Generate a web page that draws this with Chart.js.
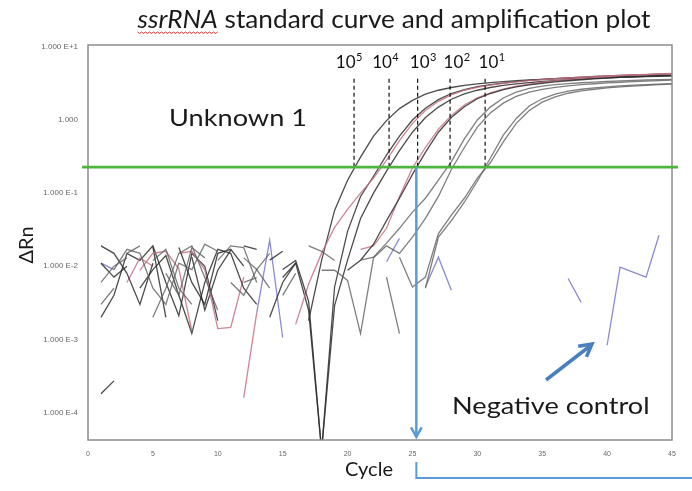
<!DOCTYPE html>
<html>
<head>
<meta charset="utf-8">
<script src="https://cdn.jsdelivr.net/npm/chart.js@4.4.1/dist/chart.umd.min.js"></script>
<style>
  html, body { margin: 0; padding: 0; background: #fff; }
</style>
</head>
<body>
<canvas id="ampChart" width="692" height="491"></canvas>
<script>
// cycle numbers 1..45
const cycles = [1,2,3,4,5,6,7,8,9,10,11,12,13,14,15,16,17,18,19,20,21,22,23,24,25,26,27,28,29,30,31,32,33,34,35,36,37,38,39,40,41,42,43,44,45];

// ΔRn per cycle (null = no value on log scale)
const std5a = [0.0110, 0.0071, 0.0100, null, 0.0182, 0.0020, null, 0.0133, 0.0025, 0.0088, 0.0166, null, null, 0.0121, 0.0160,
  null, 0.0018, 0.0120, 0.058, 0.15, 0.31, 0.60, 0.98, 1.43, 1.85, 2.25, 2.55, 2.78, 2.97, 3.12,
  3.25, 3.35, 3.45, 3.53, 3.60, 3.66, 3.72, 3.78, 3.83, 3.88, 3.92, 3.96, 4.00, 4.03, 4.06];
const std4a = [0.0020, 0.0040, 0.0150, 0.0120, 0.0190, 0.0060, 0.0021, 0.0150, 0.0100, 0.0018, null, 0.0190, 0.0170, null, 0.0070,
  0.0110, 0.0025, 0.00003, 0.0052, 0.030, 0.090, 0.17, 0.33, 0.60, 1.00, 1.45, 1.90, 2.30, 2.60, 2.85,
  3.05, 3.20, 3.35, 3.47, 3.58, 3.68, 3.77, 3.85, 3.93, 4.00, 4.06, 4.12, 4.17, 4.22, 4.26];
const std4b = [null, null, 0.0060, 0.0130, 0.0100, null, 0.0150, 0.0160, 0.0090, 0.0014, 0.00146, 0.0071, null, null, null,
  0.0016, 0.0057, 0.0151, 0.034, 0.060, 0.10, 0.16, 0.28, 0.52, 0.90, 1.35, 1.80, 2.20, 2.55, 2.80,
  3.00, 3.17, 3.32, 3.45, 3.56, 3.66, 3.75, 3.84, 3.92, 4.00, 4.07, 4.13, 4.18, 4.23, 4.28];
const std4c = [0.00018, 0.00027, null, 0.0050, 0.0090, 0.0140, 0.0040, 0.0012, 0.0060, 0.0170, 0.0150, 0.0050, 0.0030, null, 0.0090,
  0.0120, 0.0033, 0.00003, 0.0029, 0.0121, 0.045, 0.10, 0.20, 0.38, 0.68, 1.08, 1.50, 1.92, 2.27, 2.55,
  2.78, 2.97, 3.12, 3.25, 3.36, 3.46, 3.55, 3.63, 3.70, 3.76, 3.82, 3.87, 3.92, 3.96, 4.00];
const unk1a = [null, null, null, 0.0088, 0.0151, 0.0160, 0.0092, 0.0013, null, null, null, 0.00016, 0.0023, null, null,
  null, null, null, null, null, 0.017, 0.019, 0.033, 0.090, 0.22, 0.42, 0.75, 1.15, 1.60, 2.00,
  2.35, 2.65, 2.90, 3.10, 3.28, 3.43, 3.57, 3.70, 3.82, 3.93, 4.03, 4.12, 4.20, 4.27, 4.33];
const unk1b = [0.0190, 0.0150, 0.0080, 0.0030, 0.0110, null, 0.0180, 0.0060, 0.0030, 0.0150, 0.0170, 0.0100, null, 0.0020, 0.0060,
  0.0110, null, null, null, 0.0088, 0.0121, 0.020, 0.042, 0.085, 0.18, 0.36, 0.68, 1.08, 1.52, 1.95,
  2.30, 2.60, 2.83, 3.02, 3.18, 3.32, 3.44, 3.55, 3.65, 3.74, 3.82, 3.89, 3.95, 4.00, 4.05];
const std2a = [null, 0.0090, 0.0170, 0.0150, 0.0050, 0.0030, 0.0110, 0.0090, 0.0200, 0.0160, null, 0.0060, 0.0070, null, null,
  null, 0.0190, 0.0160, 0.0120, null, 0.0121, 0.0133, 0.0207, 0.033, 0.055, 0.085, 0.15, 0.27, 0.55, 1.00,
  1.50, 2.00, 2.40, 2.70, 2.90, 3.05, 3.15, 3.23, 3.30, 3.36, 3.42, 3.47, 3.52, 3.56, 3.60];
const std2b = [0.0030, 0.0050, null, null, 0.0120, 0.0170, 0.0050, 0.0030, null, 0.0120, 0.0190, 0.0180, 0.0060, null, 0.0040,
  0.0080, null, 0.0088, 0.0088, 0.0064, 0.0012, 0.0130, 0.0190, 0.0150, 0.025, 0.045, 0.090, 0.21, 0.42, 0.80,
  1.25, 1.70, 2.10, 2.40, 2.62, 2.80, 2.93, 3.04, 3.13, 3.21, 3.28, 3.34, 3.40, 3.45, 3.50];
const std1a = [0.0060, 0.0100, 0.0130, null, 0.0020, 0.0050, 0.0150, 0.0190, 0.0070, 0.0025, null, 0.0130, 0.0090, 0.0150, null,
  null, null, null, null, null, null, null, 0.0071, 0.0012, null, 0.0050, 0.025, 0.042, 0.075, 0.145,
  0.30, 0.62, 1.05, 1.55, 1.95, 2.25, 2.48, 2.63, 2.75, 2.84, 2.92, 2.99, 3.05, 3.10, 3.15];
const std1b = [null, null, 0.0150, 0.0190, null, 0.0080, 0.0040, 0.0180, 0.0130, null, 0.0060, 0.0040, 0.0090, 0.0050, null,
  null, null, null, null, null, null, null, null, 0.0133, 0.0052, 0.0071, 0.028, 0.050, 0.085, 0.16,
  0.26, 0.50, 0.90, 1.35, 1.75, 2.07, 2.32, 2.50, 2.63, 2.74, 2.83, 2.91, 2.98, 3.04, 3.10];
const negA = [null, null, null, null, null, null, null, null, null, null, null, null, 0.0023, 0.0227, 0.00106,
  null, null, null, null, null, null, null, 0.0115, 0.024, null, null, null, null, null, null,
  null, null, null, null, null, null, 0.0068, 0.0032, null, 0.00083, 0.0097, 0.0083, 0.0071, 0.0265, null];
const negB = [0.0110, 0.0090, null, null, null, null, null, null, null, null, null, null, null, null, null,
  null, null, null, null, null, null, null, null, null, null, 0.0052, 0.0133, 0.0047, null, null,
  null, null, null, null, null, null, null, null, null, null, null, null, null, null, null];

// axis ticks
const yTickValues = [0.0001, 0.001, 0.01, 0.1, 1, 10];
const yTickLabels = ['1.000 E-4', '1.000 E-3', '1.000 E-2', '1.000 E-1', '1.000', '1.000 E+1'];

// annotations
const threshold = 0.227;
const markerTop = 3.65;
const ctCycles = [20.5, 23.2, 25.4, 27.9, 30.6];
const ctLabelCycles = [20.1, 22.9, 25.8, 28.4, 31.1];
const ctExponents = ['5', '4', '3', '2', '1'];
const unknownCt = 25.3;

const black = 'rgba(45,45,45,0.85)';
const grey = 'rgba(95,95,95,0.8)';
const pink = 'rgba(198,112,128,0.85)';
const blue = 'rgba(118,118,205,0.85)';

function series(data, color) {
  return { data: data, borderColor: color, borderWidth: 1.3, pointRadius: 0, tension: 0, fill: false };
}

function line(ctx, x1, y1, x2, y2) {
  ctx.beginPath(); ctx.moveTo(x1, y1); ctx.lineTo(x2, y2); ctx.stroke();
}

function arrowHead(ctx, x, y, angle, size) {
  ctx.beginPath();
  ctx.moveTo(x - size * Math.cos(angle - 0.5), y - size * Math.sin(angle - 0.5));
  ctx.lineTo(x, y);
  ctx.lineTo(x - size * Math.cos(angle + 0.5), y - size * Math.sin(angle + 0.5));
  ctx.stroke();
}

// text stretched sideways a little, like the reference's wide lettering
function wideText(ctx, text, x, y, sx) {
  ctx.save();
  ctx.translate(x, y);
  ctx.scale(sx, 1);
  ctx.fillText(text, 0, 0);
  ctx.restore();
}

const overlay = {
  id: 'overlay',
  afterDatasetsDraw(chart) {
    const ctx = chart.ctx, xs = chart.scales.x, ys = chart.scales.y, area = chart.chartArea;
    const yTh = ys.getPixelForValue(threshold);
    const yTop = ys.getPixelForValue(markerTop);
    ctx.save();

    // frame
    ctx.strokeStyle = '#8c8c8c';
    ctx.lineWidth = 1.5;
    ctx.strokeRect(area.left, area.top, area.right - area.left, area.bottom - area.top);

    // dashed Ct markers
    ctx.strokeStyle = '#111';
    ctx.lineWidth = 1.2;
    ctx.setLineDash([4, 3]);
    ctCycles.forEach(c => {
      const px = xs.getPixelForValue(c);
      line(ctx, px, yTop, px, yTh);
    });
    ctx.setLineDash([]);

    // 10^n labels
    ctx.fillStyle = '#111';
    ctx.textBaseline = 'alphabetic';
    ctCycles.forEach((c, i) => {
      const cx = xs.getPixelForValue(ctLabelCycles[i]);
      ctx.font = '17px Lato';
      const w1 = ctx.measureText('10').width;
      ctx.font = '11px Lato';
      const w2 = ctx.measureText(ctExponents[i]).width;
      const left = cx - (w1 + w2) / 2;
      ctx.font = '17px Lato';
      ctx.textAlign = 'left';
      ctx.fillText('10', left, 68);
      ctx.font = '11px Lato';
      ctx.fillText(ctExponents[i], left + w1 + 0.5, 61);
    });

    // threshold
    ctx.strokeStyle = '#4db53c';
    ctx.lineWidth = 2.8;
    line(ctx, area.left - 6, yTh, area.right + 6, yTh);

    // unknown Ct arrow
    const ux = xs.getPixelForValue(unknownCt);
    ctx.strokeStyle = '#5b9bd5';
    ctx.lineWidth = 2.5;
    line(ctx, ux, yTh, ux, area.bottom - 3);
    arrowHead(ctx, ux, area.bottom - 3, Math.PI / 2, 11);
    ctx.lineWidth = 2;
    ctx.beginPath();
    ctx.moveTo(ux, 462); ctx.lineTo(ux, 478); ctx.lineTo(692, 478);
    ctx.stroke();

    // negative control arrow
    ctx.strokeStyle = '#4a7fbe';
    ctx.lineWidth = 3.5;
    line(ctx, 546, 380, 590, 346);
    arrowHead(ctx, 592, 344, Math.atan2(344 - 380, 592 - 546), 14);

    // texts
    ctx.fillStyle = '#1a1a1a';
    ctx.textAlign = 'left';
    ctx.font = '23px Lato';
    wideText(ctx, 'Unknown 1', 169, 126, 1.18);
    wideText(ctx, 'Negative control', 452, 414, 1.18);
    ctx.restore();
  },
  afterDraw(chart) {
    const ctx = chart.ctx;
    ctx.save();
    // title
    const italic = 'ssrRNA';
    const rest = ' standard curve and amplification plot';
    const sx = 1.05;
    ctx.font = 'italic 25px Lato';
    const w1 = ctx.measureText(italic).width * sx;
    ctx.font = '25px Lato';
    const w2 = ctx.measureText(rest).width * sx;
    const x0 = 394 - (w1 + w2) / 2;
    ctx.fillStyle = '#1a1a1a';
    ctx.textAlign = 'left';
    ctx.textBaseline = 'alphabetic';
    ctx.font = 'italic 25px Lato';
    wideText(ctx, italic, x0, 28, sx);
    ctx.font = '25px Lato';
    wideText(ctx, rest, x0 + w1, 28, sx);
    // spell-check squiggle
    ctx.strokeStyle = '#e03030';
    ctx.lineWidth = 1;
    ctx.beginPath();
    for (let px = 0; px <= w1; px += 2) {
      const py = 32 + ((px / 2) % 2 === 0 ? 0 : 1.5);
      if (px === 0) ctx.moveTo(x0 + px, py); else ctx.lineTo(x0 + px, py);
    }
    ctx.stroke();

    // axis titles
    ctx.font = '20px Lato';
    ctx.textAlign = 'center';
    ctx.textBaseline = 'middle';
    ctx.fillText('Cycle', 369, 470);
    ctx.translate(27, 245);
    ctx.rotate(-Math.PI / 2);
    ctx.fillText('\u0394Rn', 0, 0);
    ctx.restore();
  }
};

new Chart(document.getElementById('ampChart'), {
  type: 'line',
  data: {
    labels: cycles,
    datasets: [
      series(std1b, grey), series(std1a, grey),
      series(std2b, grey), series(std2a, grey),
      series(unk1b, black), series(unk1a, pink),
      series(std4c, black), series(std4b, pink), series(std4a, black),
      series(std5a, black),
      series(negA, blue), series(negB, blue)
    ]
  },
  options: {
    responsive: false,
    animation: false,
    events: [],
    layout: { padding: { left: 0, right: 20, top: 45, bottom: 0 } },
    plugins: { legend: { display: false }, tooltip: { enabled: false } },
    scales: {
      x: {
        type: 'linear',
        min: 0,
        max: 45,
        grid: { display: false, drawTicks: false },
        border: { display: false },
        afterFit: s => { s.height = 51; },
        ticks: { stepSize: 5, maxRotation: 0, autoSkip: false, padding: 10, color: '#666', font: { family: 'Liberation Sans', size: 7 } }
      },
      y: {
        type: 'logarithmic',
        min: 0.000042,
        max: 10.6,
        grid: { display: false, drawTicks: false },
        border: { display: false },
        afterFit: s => { s.width = 88; },
        afterBuildTicks: s => { s.ticks = yTickValues.map(v => ({ value: v })); },
        ticks: {
          padding: 10,
          color: '#666',
          font: { family: 'Liberation Sans', size: 8 },
          callback: v => yTickLabels[yTickValues.indexOf(v)]
        }
      }
    }
  },
  plugins: [overlay]
});
</script>
</body>
</html>
